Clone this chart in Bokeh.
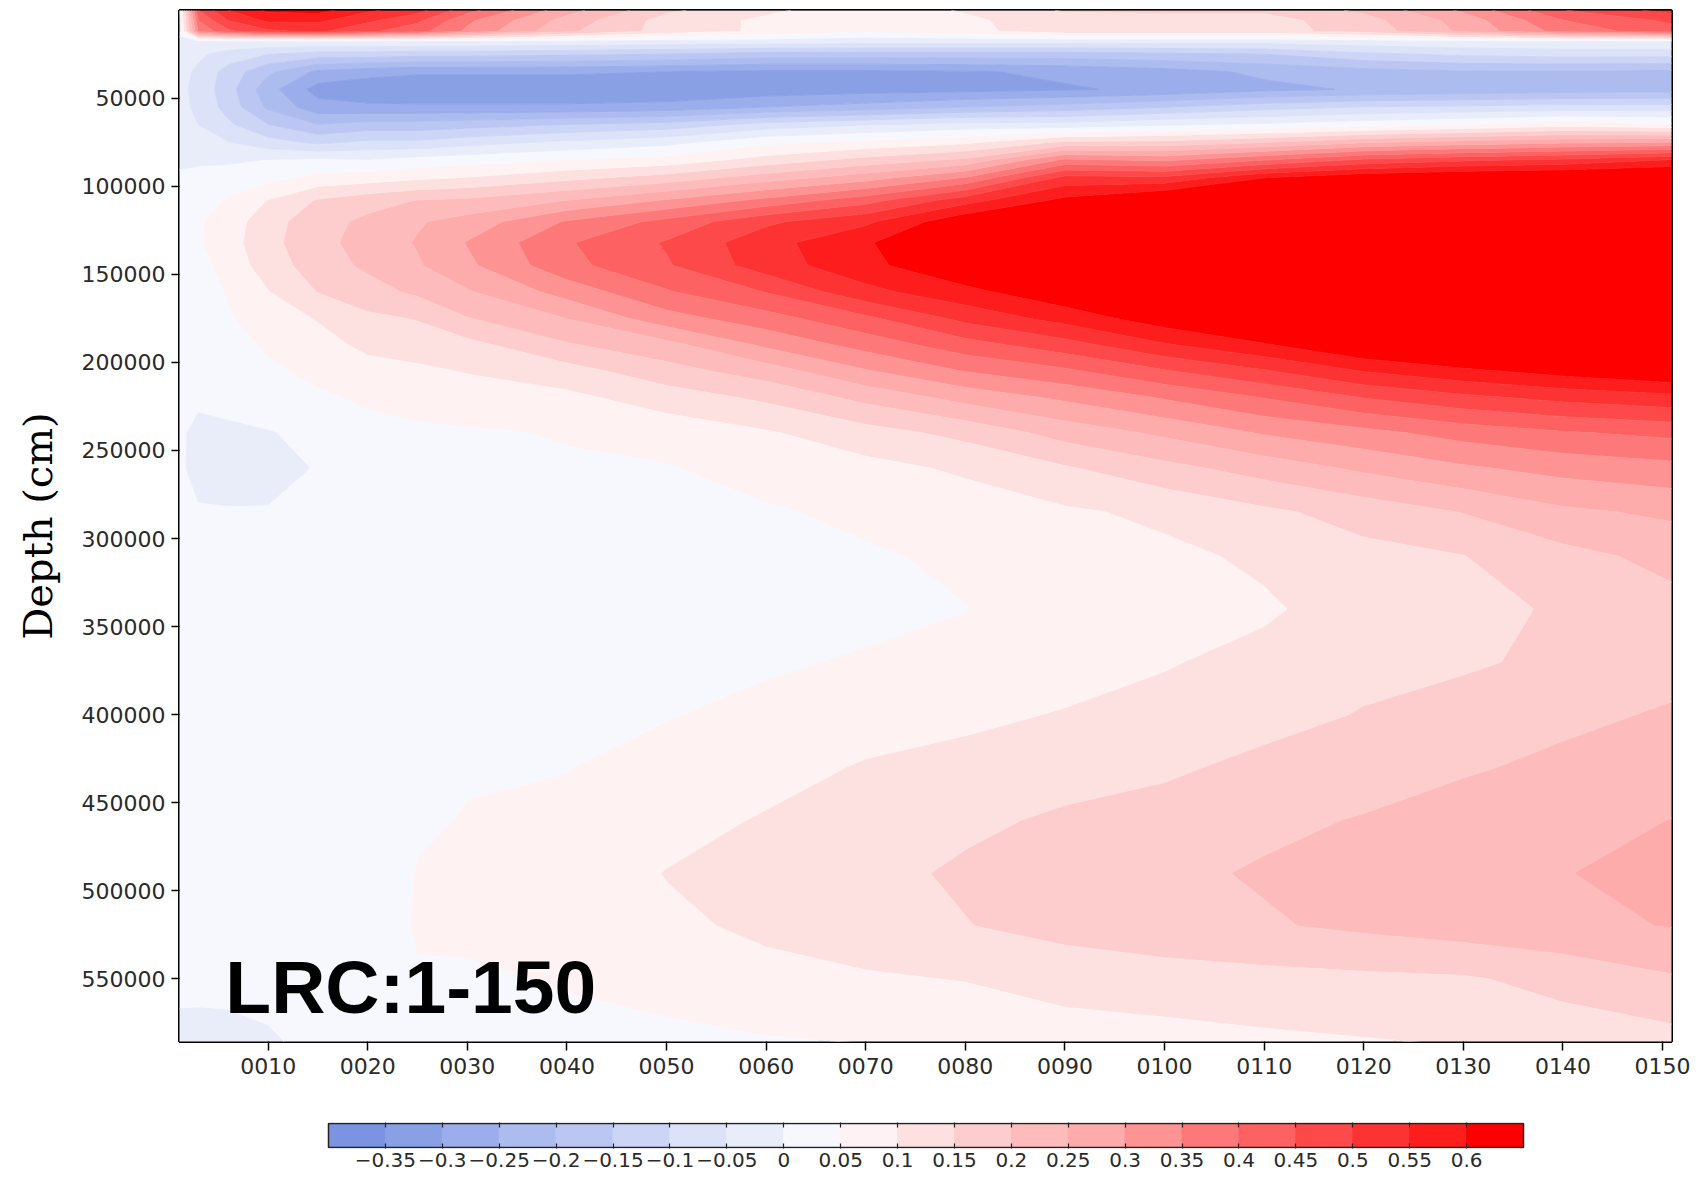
import numpy as np
from bokeh.plotting import figure
from bokeh.models import Range1d, FixedTicker, LinearAxis, Label, BasicTickFormatter
from bokeh.layouts import column
from bokeh.embed import file_html
from bokeh.resources import INLINE

# ---------------- data ----------------
years = [1, 3, 6, 10, 15, 20, 25, 30, 40, 50, 60, 70, 80, 90, 100, 110, 120, 130, 140, 151]
depths = [0, 6000, 12000, 18000, 25000, 35000, 45000, 55000, 65000, 75000, 85000, 95000,
          108000, 120000, 132000, 145000, 160000, 175000, 190000, 205000, 220000, 240000,
          260000, 285000, 310000, 340000, 370000, 400000, 430000, 460000, 490000, 520000,
          550000, 590000]

# one profile per year column, listed from the surface down along `depths`
profiles = [
    [0.02, 0.01, 0.01, -0.01, -0.02, -0.03, -0.035, -0.035, -0.03, -0.02, -0.008, 0.006, 0.015, 0.02, 0.025, 0.02, 0.015, 0.012, 0.01, 0.008, 0.005, 0.006, 0.006, 0.005, 0.01, 0.012, 0.012, 0.012, 0.012, 0.012, 0.01, 0.008, 0.006, -0.008],
    [0.45, 0.4, 0.36, -0.005, -0.04, -0.06, -0.065, -0.06, -0.05, -0.03, -0.008, 0.015, 0.03, 0.045, 0.045, 0.035, 0.025, 0.02, 0.015, 0.01, 0.006, -0.008, -0.01, 0.003, 0.01, 0.015, 0.015, 0.015, 0.015, 0.015, 0.012, 0.01, 0.007, -0.01],
    [0.55, 0.5, 0.44, -0.005, -0.07, -0.12, -0.13, -0.12, -0.09, -0.048, -0.01, 0.03, 0.055, 0.075, 0.08, 0.07, 0.055, 0.045, 0.035, 0.028, 0.015, -0.008, -0.012, 0.002, 0.01, 0.015, 0.015, 0.015, 0.015, 0.015, 0.015, 0.012, 0.008, -0.01],
    [0.61, 0.56, 0.49, -0.005, -0.098, -0.19, -0.23, -0.21, -0.148, -0.08, 0.002, 0.035, 0.102, 0.13, 0.135, 0.125, 0.098, 0.08, 0.056, 0.042, 0.025, -0.002, -0.01, 0.002, 0.01, 0.015, 0.018, 0.018, 0.018, 0.018, 0.018, 0.015, 0.01, -0.005],
    [0.62, 0.56, 0.51, -0.005, -0.12, -0.26, -0.32, -0.28, -0.198, -0.11, 0.01, 0.065, 0.155, 0.18, 0.185, 0.175, 0.152, 0.103, 0.085, 0.062, 0.043, 0.01, 0.002, 0.012, 0.015, 0.02, 0.02, 0.02, 0.02, 0.02, 0.02, 0.018, 0.015, 0.006],
    [0.56, 0.51, 0.46, -0.005, -0.12, -0.28, -0.335, -0.29, -0.18, -0.09, 0.003, 0.075, 0.18, 0.212, 0.22, 0.21, 0.18, 0.14, 0.11, 0.085, 0.058, 0.035, 0.025, 0.022, 0.025, 0.025, 0.025, 0.025, 0.025, 0.025, 0.025, 0.022, 0.02, 0.015],
    [0.52, 0.46, 0.42, -0.005, -0.13, -0.29, -0.345, -0.29, -0.18, -0.09, 0.02, 0.09, 0.202, 0.245, 0.254, 0.245, 0.21, 0.153, 0.125, 0.09, 0.068, 0.042, 0.035, 0.03, 0.03, 0.03, 0.032, 0.035, 0.038, 0.045, 0.052, 0.055, 0.046, 0.035],
    [0.42, 0.36, 0.34, -0.005, -0.13, -0.29, -0.345, -0.29, -0.17, -0.07, 0.03, 0.102, 0.21, 0.27, 0.303, 0.29, 0.245, 0.198, 0.135, 0.103, 0.077, 0.045, 0.04, 0.04, 0.038, 0.038, 0.04, 0.043, 0.047, 0.052, 0.058, 0.058, 0.045, 0.035],
    [0.27, 0.23, 0.21, -0.01, -0.14, -0.29, -0.345, -0.29, -0.148, -0.04, 0.051, 0.135, 0.251, 0.355, 0.395, 0.385, 0.32, 0.251, 0.195, 0.13, 0.088, 0.053, 0.045, 0.045, 0.045, 0.045, 0.046, 0.048, 0.049, 0.058, 0.068, 0.068, 0.053, 0.038],
    [0.16, 0.13, 0.13, -0.02, -0.15, -0.3, -0.345, -0.28, -0.13, -0.015, 0.07, 0.17, 0.305, 0.415, 0.455, 0.445, 0.395, 0.33, 0.235, 0.18, 0.125, 0.07, 0.047, 0.04, 0.035, 0.035, 0.04, 0.048, 0.065, 0.08, 0.102, 0.09, 0.068, 0.035],
    [0.11, 0.09, 0.09, -0.02, -0.17, -0.31, -0.33, -0.25, -0.08, 0.04, 0.12, 0.225, 0.365, 0.49, 0.532, 0.525, 0.452, 0.38, 0.31, 0.225, 0.16, 0.095, 0.07, 0.045, 0.04, 0.04, 0.045, 0.06, 0.08, 0.105, 0.115, 0.11, 0.085, 0.042],
    [0.07, 0.06, 0.055, -0.03, -0.17, -0.31, -0.32, -0.23, -0.052, 0.063, 0.167, 0.277, 0.43, 0.54, 0.593, 0.585, 0.535, 0.44, 0.37, 0.295, 0.215, 0.13, 0.085, 0.06, 0.045, 0.04, 0.054, 0.075, 0.105, 0.125, 0.135, 0.125, 0.095, 0.046],
    [0.105, 0.09, 0.085, -0.03, -0.17, -0.305, -0.315, -0.2, -0.03, 0.09, 0.21, 0.352, 0.53, 0.64, 0.68, 0.65, 0.585, 0.515, 0.43, 0.352, 0.268, 0.165, 0.108, 0.075, 0.058, 0.049, 0.065, 0.09, 0.115, 0.14, 0.158, 0.148, 0.102, 0.062],
    [0.155, 0.13, 0.13, -0.03, -0.17, -0.29, -0.305, -0.18, -0.03, 0.16, 0.36, 0.515, 0.615, 0.7, 0.72, 0.72, 0.64, 0.57, 0.48, 0.39, 0.31, 0.22, 0.145, 0.093, 0.08, 0.075, 0.08, 0.103, 0.13, 0.158, 0.178, 0.17, 0.115, 0.078],
    [0.16, 0.13, 0.13, -0.03, -0.16, -0.27, -0.29, -0.152, -0.005, 0.165, 0.34, 0.51, 0.67, 0.73, 0.75, 0.75, 0.71, 0.63, 0.545, 0.445, 0.355, 0.26, 0.185, 0.11, 0.09, 0.088, 0.097, 0.113, 0.142, 0.17, 0.19, 0.18, 0.13, 0.075],
    [0.16, 0.13, 0.13, -0.03, -0.15, -0.24, -0.262, -0.12, 0.01, 0.198, 0.398, 0.598, 0.72, 0.76, 0.78, 0.78, 0.75, 0.68, 0.595, 0.495, 0.402, 0.305, 0.222, 0.14, 0.108, 0.094, 0.112, 0.133, 0.163, 0.19, 0.205, 0.195, 0.135, 0.085],
    [0.21, 0.18, 0.17, -0.02, -0.11, -0.22, -0.245, -0.098, 0.03, 0.245, 0.46, 0.64, 0.75, 0.8, 0.82, 0.81, 0.78, 0.73, 0.655, 0.552, 0.452, 0.335, 0.26, 0.17, 0.135, 0.12, 0.135, 0.153, 0.18, 0.203, 0.225, 0.21, 0.14, 0.092],
    [0.31, 0.27, 0.26, -0.01, -0.09, -0.205, -0.235, -0.09, 0.052, 0.27, 0.49, 0.66, 0.77, 0.82, 0.84, 0.84, 0.81, 0.77, 0.7, 0.588, 0.488, 0.37, 0.293, 0.202, 0.149, 0.138, 0.145, 0.165, 0.195, 0.22, 0.235, 0.225, 0.145, 0.098],
    [0.448, 0.398, 0.37, -0.005, -0.08, -0.205, -0.225, -0.08, 0.08, 0.29, 0.51, 0.67, 0.78, 0.83, 0.85, 0.85, 0.82, 0.78, 0.72, 0.62, 0.515, 0.395, 0.318, 0.24, 0.185, 0.155, 0.158, 0.19, 0.21, 0.235, 0.248, 0.24, 0.165, 0.12],
    [0.52, 0.46, 0.43, -0.005, -0.08, -0.21, -0.22, -0.08, 0.06, 0.302, 0.552, 0.68, 0.79, 0.84, 0.86, 0.86, 0.83, 0.79, 0.73, 0.65, 0.535, 0.413, 0.335, 0.26, 0.215, 0.185, 0.185, 0.205, 0.228, 0.251, 0.268, 0.252, 0.195, 0.125],
]

levels = [-1.0, -0.35, -0.3, -0.25, -0.2, -0.15, -0.1, -0.05, 0.0, 0.05, 0.1, 0.15,
          0.2, 0.25, 0.3, 0.35, 0.4, 0.45, 0.5, 0.55, 0.6, 1.5]
palette = ["#7b93e1", "#8aa0e5", "#9badea", "#adbcef", "#bbc7f2", "#ccd5f5", "#dce2f8",
           "#e9edfa", "#f7f8fe", "#fef3f2", "#fde0e0", "#fdcccc", "#fdbbbb", "#fdabab",
           "#fd9393", "#fd7979", "#fd6161", "#fd4949", "#fd3333", "#fd1d1d", "#ff0000"]

cb_ticks = [-0.35, -0.3, -0.25, -0.2, -0.15, -0.1, -0.05, 0.0, 0.05, 0.1, 0.15, 0.2,
            0.25, 0.3, 0.35, 0.4, 0.45, 0.5, 0.55, 0.6]
cb_labels = ["\u22120.35", "\u22120.3", "\u22120.25", "\u22120.2", "\u22120.15", "\u22120.1",
             "\u22120.05", "0", "0.05", "0.1", "0.15", "0.2", "0.25", "0.3", "0.35", "0.4",
             "0.45", "0.5", "0.55", "0.6"]

year_ticks = [10, 20, 30, 40, 50, 60, 70, 80, 90, 100, 110, 120, 130, 140, 150]
year_labels = ["0010", "0020", "0030", "0040", "0050", "0060", "0070", "0080", "0090",
               "0100", "0110", "0120", "0130", "0140", "0150"]
depth_ticks = [50000, 100000, 150000, 200000, 250000, 300000, 350000, 400000, 450000,
               500000, 550000]

# ---------------- page geometry (pixels) ----------------
FRAME_L, FRAME_R = 179, 1671
BAR_L, BAR_R = 328, 1523

# ---------------- main plot ----------------
p = figure(width=1707, height=1100,
           x_range=Range1d(1.1, 150.9), y_range=Range1d(585600, 200),
           output_backend="svg", toolbar_location=None,
           min_border_left=FRAME_L, min_border_right=1707 - FRAME_R,
           min_border_top=10, min_border_bottom=59)
p.xgrid.visible = False
p.ygrid.visible = False
p.background_fill_color = "white"
p.border_fill_color = "white"
p.outline_line_color = "black"
p.outline_line_width = 3

z = np.array(profiles, dtype=float).T
p.contour(x=np.array(years, dtype=float), y=np.array(depths, dtype=float), z=z,
          levels=levels, fill_color=palette, line_color=[palette[0]] + palette,
          line_width=1)

for ax in (p.xaxis[0], p.yaxis[0]):
    ax.axis_line_color = None
    ax.minor_tick_line_color = None
    ax.major_tick_in = 0
    ax.major_tick_line_color = "black"
    ax.major_tick_line_width = 1.5
    ax.major_label_text_font = "DejaVu Sans"
    ax.major_label_text_font_size = "22px"
    ax.major_label_text_color = "#2a2a2a"

p.xaxis.ticker = FixedTicker(ticks=year_ticks)
p.xaxis.major_label_overrides = dict(zip(year_ticks, year_labels))
p.xaxis.major_tick_out = 9
p.xaxis.major_label_standoff = 7

p.yaxis.ticker = FixedTicker(ticks=depth_ticks)
p.yaxis.formatter = BasicTickFormatter(use_scientific=False)
p.yaxis.major_tick_out = 8
p.yaxis.major_label_standoff = 6
p.yaxis.axis_label = "Depth (cm)"
p.yaxis.axis_label_text_font = "DejaVu Serif"
p.yaxis.axis_label_text_font_size = "40px"
p.yaxis.axis_label_text_font_style = "normal"
p.yaxis.axis_label_text_color = "black"
p.yaxis.axis_label_standoff = 18

p.add_layout(Label(x=5.7, y=554800, text="LRC:1-150", text_font="Liberation Sans",
                   text_font_style="bold", text_font_size="75px", text_color="black",
                   text_baseline="alphabetic", text_align="left"))

# ---------------- colour bar ----------------
cb_left = [cb_ticks[0] - 0.05] + cb_ticks
cb_right = cb_ticks + [cb_ticks[-1] + 0.05]
lo, hi = cb_left[0], cb_right[-1]
px_per_unit = (BAR_R - BAR_L) / (hi - lo)
cb_range = Range1d(lo - (BAR_L - FRAME_L) / px_per_unit, hi + (FRAME_R - BAR_R) / px_per_unit)

p2 = figure(width=1707, height=81, x_range=cb_range, y_range=Range1d(-0.04, 1.04),
            output_backend="svg", toolbar_location=None, y_axis_location=None,
            min_border_left=FRAME_L, min_border_right=1707 - FRAME_R,
            min_border_top=22, min_border_bottom=33)
p2.xgrid.visible = False
p2.ygrid.visible = False
p2.outline_line_color = None
p2.quad(left=cb_left, right=cb_right, bottom=0, top=1, fill_color=palette,
        line_color=palette, line_width=1)
p2.quad(left=[lo], right=[hi], bottom=0, top=1, fill_color=None,
        line_color="#222222", line_width=1.5)

p2.xaxis.ticker = FixedTicker(ticks=cb_ticks)
p2.xaxis.major_label_overrides = dict(zip(cb_ticks, cb_labels))
p2.xaxis.axis_line_color = None
p2.xaxis.minor_tick_line_color = None
p2.xaxis.major_tick_in = 5
p2.xaxis.major_tick_out = 0
p2.xaxis.major_tick_line_color = "#222222"
p2.xaxis.major_tick_line_width = 1.2
p2.xaxis.major_label_standoff = 4
p2.xaxis.major_label_text_font = "DejaVu Sans"
p2.xaxis.major_label_text_font_size = "20px"
p2.xaxis.major_label_text_color = "#2a2a2a"

top_axis = LinearAxis(ticker=FixedTicker(ticks=cb_ticks), axis_line_color=None,
                      minor_tick_line_color=None, major_tick_in=5, major_tick_out=0,
                      major_tick_line_color="#222222", major_tick_line_width=1.2,
                      major_label_text_font_size="1px", major_label_text_alpha=0,
                      major_label_standoff=0)
p2.add_layout(top_axis, "above")

layout = column(p, p2, spacing=0)
open("out.html", "w").write(file_html(layout, INLINE))
